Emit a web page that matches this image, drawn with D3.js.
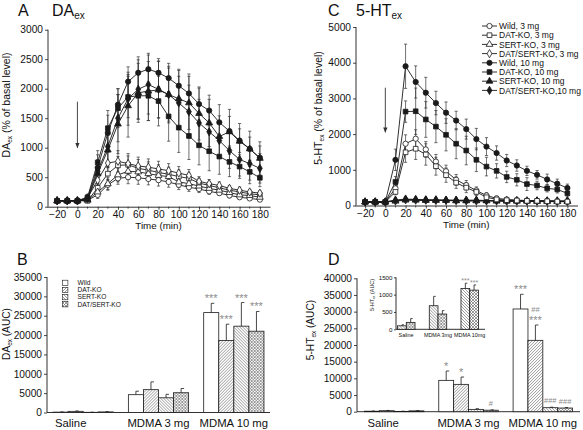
<!DOCTYPE html>
<html><head><meta charset="utf-8">
<script src="https://cdn.jsdelivr.net/npm/d3@7"></script>
<style>
body{margin:0;background:#fff}
svg{display:block}
text{font-family:"Liberation Sans",Arial,sans-serif;fill:#111}
</style></head>
<body><svg id="c" width="583" height="430"></svg>
<script>
// ---------------- DATA ----------------
const times = [-20,-10,0,10,20,30,40,50,60,70,80,90,100,110,120,130,140,150,160,170,180];
const timeTicks = [-20,0,20,40,60,80,100,120,140,160,180];
const genotypes = ["Wild","DAT-KO","SERT-KO","DAT/SERT-KO"];
const legendLabels = ["Wild, 3 mg","DAT-KO, 3 mg","SERT-KO, 3 mg","DAT/SERT-KO, 3 mg",
                      "Wild, 10 mg","DAT-KO, 10 mg","SERT-KO, 10 mg","DAT/SERT-KO,10 mg"];

// Panel A: DAex (% of basal level)
const daWild3    = [100,100,100,110,200,370,480,500,490,470,450,420,370,330,300,260,230,190,160,140,120];
const daDat3     = [100,100,100,100,320,560,700,710,650,620,580,550,510,480,400,360,320,280,250,220,200];
const daSert3    = [100,100,100,110,250,390,540,600,590,560,530,510,420,390,350,310,280,240,200,190,160];
const daDs3      = [100,100,100,150,450,740,770,730,690,670,640,610,570,530,430,390,360,310,280,250,230];
const daWild10   = [100,100,100,150,660,1250,1730,2120,2270,2330,2270,2180,2050,1920,1740,1630,1430,1280,1120,980,830];
const daDat10    = [100,100,100,160,750,1330,1670,1860,1880,1880,1790,1530,1340,1200,1040,940,850,760,680,590,490];
const daSert10   = [100,100,100,120,560,960,1400,1710,1930,1960,1980,1900,1830,1760,1580,1420,1190,1270,1110,980,820];
const daDs10     = [100,100,100,140,600,1020,1500,1830,1990,2070,1990,1900,1760,1610,1420,1270,1120,950,800,730,650];
const daWild3E   = [10,10,10,20,60,90,100,110,110,100,100,90,80,70,60,50,40,40,30,30,30];
const daDat3E    = [10,10,10,20,80,120,150,150,150,140,130,120,110,90,80,60,50,50,40,40,30];
const daSert3E   = [10,10,10,20,60,100,120,130,120,110,110,100,90,80,70,60,50,40,40,30,30];
const daDs3E     = [10,10,10,40,110,180,180,170,150,140,130,120,110,100,80,70,60,50,50,40,40];
const daWild10E  = [10,10,10,40,220,300,270,250,270,270,240,250,280,330,270,260,300,250,200,200,200];
const daDat10E   = [10,10,10,50,200,300,330,350,400,420,420,420,420,400,330,330,300,250,200,200,150];
const daSert10E  = [10,10,10,40,180,300,500,530,500,500,480,480,480,450,450,400,350,380,300,300,280];
const daDs10E    = [10,10,10,40,200,350,400,450,500,500,480,450,450,450,400,350,300,300,280,280,250];

// Panel C: 5-HTex (% of basal level)
const htWild3    = [100,100,100,480,1730,1870,1570,1230,960,720,570,420,280,200,170,150,140,130,120,120,110];
const htDat3     = [100,100,100,380,1490,1590,1430,1100,850,640,500,380,230,170,150,140,130,130,120,110,110];
const htSert3    = [100,100,100,120,150,150,140,140,140,130,130,130,130,120,120,120,120,110,110,110,110];
const htDs3      = [100,100,100,130,160,150,150,140,140,140,130,130,130,130,120,120,120,120,110,110,110];
const htWild10   = [100,100,100,1280,3900,3460,3160,2870,2600,2380,2140,1860,1650,1470,1260,1120,970,860,730,610,490];
const htDat10    = [100,100,100,660,2630,2640,2410,2210,1980,1730,1540,1280,1090,970,800,720,600,560,480,450,340];
const htSert10   = [100,100,100,140,170,160,150,150,150,140,140,140,140,140,130,130,130,130,130,120,120];
const htDs10     = [100,100,100,150,180,170,160,160,150,150,150,150,140,140,140,140,130,130,130,130,130];
const htWild3E   = [10,10,10,120,250,250,220,200,170,150,130,100,80,60,40,30,30,30,20,20,20];
const htDat3E    = [10,10,10,80,280,300,300,250,200,160,140,100,70,50,40,30,30,30,20,20,20];
const htSmallE   = [10,10,10,20,30,30,30,30,30,30,30,30,30,30,30,30,30,30,30,30,30];
const htWild10E  = [10,10,10,300,620,450,430,330,300,260,280,300,250,200,170,160,130,120,150,130,110];
const htDat10E   = [10,10,10,150,300,650,500,450,450,420,400,330,260,200,160,170,180,120,100,100,100];

// Panel B: DAex AUC, groups x genotypes
const groups = ["Saline","MDMA 3 mg","MDMA 10 mg"];
const daAucSaline  = [100,300,50,150];
const daAucMdma3   = [4600,5900,3800,5100];
const daAucMdma10  = [25800,18600,22300,21000];
const daAucSalineE = [50,100,30,60];
const daAucMdma3E  = [900,2000,900,1100];
const daAucMdma10E = [2400,4200,6100,5100];
const daSigSaline  = ["","","",""];
const daSigMdma3   = ["","","",""];
const daSigMdma10  = ["***","***","***","***"];

// Panel D: 5-HTex AUC
const htAucSaline  = [150,300,100,250];
const htAucMdma3   = [9400,8200,700,450];
const htAucMdma10  = [30800,21400,1200,1100];
const htAucSalineE = [50,80,40,80];
const htAucMdma3E  = [2800,2200,200,100];
const htAucMdma10E = [4400,4600,150,150];
const htSigSaline  = ["","","",""];
const htSigMdma3   = ["*","*","","#"];
const htSigMdma10  = ["***","##|***","###","###"];

// Inset of D: SERT-KO and DAT/SERT-KO only
const insetGroups = ["Saline","MDMA 3mg","MDMA 10mg"];
const insetGenotypes = ["SERT-KO","DAT/SERT-KO"];
const insetSaline  = [100,200];
const insetMdma3   = [680,440];
const insetMdma10  = [1180,1130];
const insetSalineE = [30,110];
const insetMdma3E  = [270,100];
const insetMdma10E = [150,150];
const insetSig     = [["",""],["",""],["***","***"]];

// ---------------- DRAW ----------------
const svg = d3.select("#c");
const ink = "#1a1a1a";
const sigCol = "#8c8c8c";
const fmt = d3.format("d");

const defs = svg.append("defs");
function hatch(id, dirs){
  const s = 3;
  const p = defs.append("pattern").attr("id",id).attr("patternUnits","userSpaceOnUse")
    .attr("width",s).attr("height",s);
  p.append("rect").attr("width",s).attr("height",s).attr("fill","#fff");
  let d = "";
  if (dirs.includes("/")) d += `M0,${s}L${s},0M-1,1L1,-1M${s-1},${s+1}L${s+1},${s-1}`;
  if (dirs.includes("\\")) d += `M0,0L${s},${s}M-1,${s-1}L1,${s+1}M${s-1},-1L${s+1},1`;
  p.append("path").attr("d",d).attr("stroke","#555").attr("stroke-width",0.6).attr("fill","none");
}
hatch("hFwd","/"); hatch("hBack","\\"); hatch("hCross","/\\");
const fills = {"Wild":"#fff","DAT-KO":"url(#hFwd)","SERT-KO":"url(#hBack)","DAT/SERT-KO":"url(#hCross)"};

const symTypes = {"Wild":d3.symbolCircle,"DAT-KO":d3.symbolSquare,"SERT-KO":d3.symbolTriangle,"DAT/SERT-KO":d3.symbolDiamond};
const symSizes = {"Wild":22,"DAT-KO":22,"SERT-KO":20,"DAT/SERT-KO":20};

defs.append("marker").attr("id","arr").attr("viewBox","0 0 10 10").attr("refX",9).attr("refY",5)
  .attr("markerWidth",6).attr("markerHeight",8).attr("orient","auto")
  .append("path").attr("d","M0,1L10,5L0,9Z").attr("fill","#333");

function styleAxis(g, fs){
  g.selectAll("path.domain").attr("stroke",ink).attr("stroke-width",0.9);
  g.selectAll(".tick line").attr("stroke",ink).attr("stroke-width",0.8);
  g.selectAll(".tick text").attr("font-size",fs).attr("fill","#111")
    .attr("font-family",'"Liberation Sans",Arial,sans-serif');
}

function panelTitle(x, y, letter, tx, main){
  svg.append("text").attr("x",x).attr("y",y).attr("font-size",16).text(letter);
  if (main){
    const t = svg.append("text").attr("x",tx).attr("y",y).attr("font-size",16);
    t.append("tspan").text(main);
    t.append("tspan").attr("font-size",10).attr("dy",3).text("ex");
  }
}
function yLabel(x, y, pre, post, fs){
  const t = svg.append("text").attr("transform",`translate(${x},${y}) rotate(-90)`)
    .attr("text-anchor","middle").attr("font-size",fs);
  t.append("tspan").text(pre);
  t.append("tspan").attr("font-size",fs*0.62).attr("dy",fs*0.2).text("ex");
  t.append("tspan").attr("dy",-fs*0.2).text(post);
}

function timePanel(cfg){
  const x = d3.scaleLinear().domain([-30,190]).range(cfg.xr);
  const y = d3.scaleLinear().domain([0,cfg.ymax]).range(cfg.yr);
  const g = svg.append("g");
  const ax = g.append("g").attr("transform",`translate(0,${cfg.yr[0]})`)
    .call(d3.axisBottom(x).tickValues(timeTicks).tickFormat(fmt).tickSize(3).tickSizeOuter(0).tickPadding(1.5));
  styleAxis(ax, 10.2);
  const ay = g.append("g").attr("transform",`translate(${cfg.xr[0]+1},0)`)
    .call(d3.axisLeft(y).ticks(cfg.ymax/cfg.ystep).tickFormat(fmt).tickSize(3).tickSizeOuter(0).tickPadding(2));
  styleAxis(ay, 10.2);
  ay.select("path.domain").attr("d",`M0,${cfg.yr[0]}V${y(cfg.ymax)}`);
  g.selectAll("line.minor").data(times.filter(t=>!timeTicks.includes(t)))
    .join("line").attr("x1",d=>x(d)).attr("x2",d=>x(d))
    .attr("y1",cfg.yr[0]).attr("y2",cfg.yr[0]+2).attr("stroke",ink).attr("stroke-width",0.7);

  svg.append("text").attr("x",(x(-20)+x(180))/2).attr("y",cfg.yr[0]+22)
    .attr("text-anchor","middle").attr("font-size",9.8).text("Time (min)");

  g.append("line").attr("x1",x(0)).attr("x2",x(0)).attr("y1",y(cfg.arrow[0])).attr("y2",y(cfg.arrow[1]))
    .attr("stroke","#333").attr("stroke-width",0.9).attr("marker-end","url(#arr)");

  const line = d3.line().x((d,i)=>x(times[i])).y(d=>y(d));
  cfg.series.forEach(s=>{
    g.append("path").datum(s.v).attr("d",line).attr("fill","none").attr("stroke",ink).attr("stroke-width",0.9);
  });
  cfg.series.forEach(s=>{
    const eg = g.append("g").attr("stroke","#333").attr("stroke-width",0.7);
    s.v.forEach((v,i)=>{
      const e = s.e[i]; if (e < 25) return;
      const xi = x(times[i]);
      eg.append("line").attr("x1",xi).attr("x2",xi).attr("y1",y(v-e)).attr("y2",y(v+e));
      eg.append("line").attr("x1",xi-1.6).attr("x2",xi+1.6).attr("y1",y(v-e)).attr("y2",y(v-e));
      eg.append("line").attr("x1",xi-1.6).attr("x2",xi+1.6).attr("y1",y(v+e)).attr("y2",y(v+e));
    });
  });
  cfg.series.forEach(s=>{
    const sym = d3.symbol().type(symTypes[s.geno]).size(symSizes[s.geno]);
    g.append("g").selectAll("path").data(s.v).join("path")
      .attr("transform",(d,i)=>`translate(${x(times[i])},${y(d)})`)
      .attr("d",sym()).attr("fill",s.filled?ink:"#fff").attr("stroke",ink).attr("stroke-width",0.8);
  });
  return {x,y};
}

function mk(geno, filled, v, e){ return {geno, filled, v, e}; }

// Panel A
panelTitle(18,16,"A",52,"DA");
timePanel({xr:[47,270], yr:[206.7,29.7], ymax:3000, ystep:500, arrow:[1780,1000],
  series:[mk("Wild",false,daWild3,daWild3E), mk("DAT-KO",false,daDat3,daDat3E),
          mk("SERT-KO",false,daSert3,daSert3E), mk("DAT/SERT-KO",false,daDs3,daDs3E),
          mk("DAT-KO",true,daDat10,daDat10E), mk("SERT-KO",true,daSert10,daSert10E),
          mk("DAT/SERT-KO",true,daDs10,daDs10E), mk("Wild",true,daWild10,daWild10E)]});
yLabel(10,105,"DA"," (% of basal level)",10.5);

// Panel C
panelTitle(328,16,"C",356,"5-HT");
timePanel({xr:[355,577.5], yr:[205.5,27], ymax:5000, ystep:1000, arrow:[3300,2050],
  series:[mk("SERT-KO",false,htSert3,htSmallE), mk("DAT/SERT-KO",false,htDs3,htSmallE),
          mk("SERT-KO",true,htSert10,htSmallE), mk("DAT/SERT-KO",true,htDs10,htSmallE),
          mk("Wild",false,htWild3,htWild3E), mk("DAT-KO",false,htDat3,htDat3E),
          mk("DAT-KO",true,htDat10,htDat10E), mk("Wild",true,htWild10,htWild10E)]});
yLabel(322,108,"5-HT"," (% of basal level)",10.5);

// Legend C
const legG = svg.append("g");
legendLabels.forEach((lab,i)=>{
  const geno = genotypes[i%4], filled = i>=4;
  const yy = 26 + i*9.2;
  legG.append("line").attr("x1",482).attr("x2",497).attr("y1",yy).attr("y2",yy).attr("stroke",ink).attr("stroke-width",0.9);
  legG.append("path").attr("transform",`translate(489.5,${yy})`)
    .attr("d",d3.symbol().type(symTypes[geno]).size(symSizes[geno])())
    .attr("fill",filled?ink:"#fff").attr("stroke",ink).attr("stroke-width",0.8);
  legG.append("text").attr("x",499).attr("y",yy+3.1).attr("font-size",8.5).text(lab);
});

// Bar panels
function barPanel(cfg){
  const x0 = d3.scaleBand().domain(cfg.groups).range(cfg.xr).paddingInner(cfg.pi).paddingOuter(cfg.po);
  const x1 = d3.scaleBand().domain(cfg.genos).range([0,x0.bandwidth()]);
  const y = d3.scaleLinear().domain([0,cfg.ymax]).range(cfg.yr);
  const g = svg.append("g");
  const ay = g.append("g").attr("transform",`translate(${cfg.xr[0]},0)`)
    .call(d3.axisLeft(y).ticks(cfg.ymax/cfg.ystep).tickFormat(fmt).tickSize(cfg.tick).tickSizeOuter(0).tickPadding(cfg.pad));
  styleAxis(ay, cfg.fs);
  ay.select("path.domain").attr("d",`M0,${cfg.yr[0]}V${y(cfg.ymax)}`);
  g.append("line").attr("x1",cfg.xr[0]).attr("x2",cfg.axisEnd).attr("y1",cfg.yr[0]).attr("y2",cfg.yr[0])
    .attr("stroke",ink).attr("stroke-width",0.9);
  cfg.groups.forEach((grp,gi)=>{
    const gg = g.append("g").attr("transform",`translate(${x0(grp)},0)`);
    cfg.genos.forEach((geno,k)=>{
      const v = cfg.vals[gi][k], e = cfg.errs[gi][k];
      const bx = x1(geno), bw = x1.bandwidth();
      gg.append("rect").attr("x",bx).attr("y",y(v)).attr("width",bw).attr("height",cfg.yr[0]-y(v))
        .attr("fill",fills[geno]).attr("stroke",ink).attr("stroke-width",0.8);
      if (e>0){
        gg.append("line").attr("x1",bx+bw/2).attr("x2",bx+bw/2).attr("y1",y(v)).attr("y2",y(v+e))
          .attr("stroke",ink).attr("stroke-width",0.8);
        gg.append("line").attr("x1",bx+bw/2).attr("x2",bx+bw/2+cfg.cap).attr("y1",y(v+e)).attr("y2",y(v+e))
          .attr("stroke",ink).attr("stroke-width",0.8);
      }
      const sig = cfg.sigs[gi][k];
      if (sig){
        const lines = sig.split("|");
        lines.forEach((ln,li)=>{
          const isStar = ln[0]==="*";
          const base = y(v+e) - (isStar?cfg.starOff:cfg.hashOff) - (lines.length-1-li)*cfg.lineGap;
          gg.append("text").attr("x",bx+bw/2).attr("y",base).attr("text-anchor","middle")
            .attr("font-size",isStar?cfg.starFs:cfg.hashFs).style("fill",sigCol).text(ln);
        });
      }
    });
    const lab = g.append("text").attr("y",cfg.labY).attr("font-size",cfg.labFs).text(grp);
    if (gi===0) lab.attr("x",x0(grp)+cfg.salOff);
    else lab.attr("x",x0(grp)+x0.bandwidth()/2).attr("text-anchor","middle");
  });
  return {x0,y};
}

// Panel B
panelTitle(17,265,"B");
barPanel({groups, genos:genotypes, xr:[47,270], axisEnd:270, pi:0.2, po:0.08, yr:[412.5,277], ymax:35000, ystep:5000,
  tick:3, pad:2, fs:10.2, cap:3,
  vals:[daAucSaline,daAucMdma3,daAucMdma10], errs:[daAucSalineE,daAucMdma3E,daAucMdma10E],
  sigs:[daSigSaline,daSigMdma3,daSigMdma10], starOff:1, hashOff:3, lineGap:8, starFs:11, hashFs:7.5,
  labY:426.5, labFs:11.3, salOff:2});
yLabel(10,334,"DA"," (AUC)",10.2);
genotypes.forEach((geno,i)=>{
  const yy = 280.2 + i*7.1;
  svg.append("rect").attr("x",62.5).attr("y",yy).attr("width",5.4).attr("height",5.4)
    .attr("fill",fills[geno]).attr("stroke",ink).attr("stroke-width",0.6);
  svg.append("text").attr("x",77.5).attr("y",yy+5).attr("font-size",6.6).text(geno);
});

// Panel D
panelTitle(328,265,"D");
barPanel({groups, genos:genotypes, xr:[357,580], axisEnd:580, pi:0.2, po:0.1, yr:[411.7,278.3], ymax:40000, ystep:5000,
  tick:3, pad:2, fs:10.2, cap:3,
  vals:[htAucSaline,htAucMdma3,htAucMdma10], errs:[htAucSalineE,htAucMdma3E,htAucMdma10E],
  sigs:[htSigSaline,htSigMdma3,htSigMdma10], starOff:1, hashOff:4, lineGap:8.5, starFs:11, hashFs:7.5,
  labY:426.5, labFs:11.3, salOff:3});
yLabel(314,330,"5-HT"," (AUC)",10.2);

// Inset
barPanel({groups:insetGroups, genos:insetGenotypes, xr:[396,480], axisEnd:485, pi:0.45, po:0.05, yr:[329.3,277.3], ymax:1500, ystep:500,
  tick:2, pad:1.5, fs:6.2, cap:2,
  vals:[insetSaline,insetMdma3,insetMdma10], errs:[insetSalineE,insetMdma3E,insetMdma10E],
  sigs:insetSig, starOff:0, hashOff:2, lineGap:5, starFs:7, hashFs:5,
  labY:336.5, labFs:5.4, salOff:1});
yLabel(374,295,"5-HT"," (AUC)",5.4);
</script>
</body></html>
